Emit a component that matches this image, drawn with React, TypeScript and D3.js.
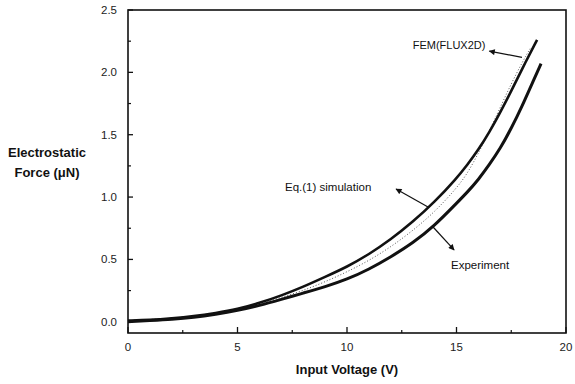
import * as d3 from "d3";

// Eq.(1) simulation (upper solid curve)
const eqVolt = [0, 1, 2, 3, 4, 5, 6, 7, 8, 9, 10, 11, 12, 13, 14, 15, 15.5, 16, 16.5, 17, 17.5, 18, 18.68];
const eqForce = [0.01, 0.015, 0.028, 0.045, 0.07, 0.1, 0.15, 0.21, 0.28, 0.36, 0.44, 0.54, 0.66, 0.8, 0.96, 1.15, 1.26, 1.38, 1.52, 1.68, 1.85, 2.03, 2.26];

// Experiment (lower solid curve)
const expVolt = [0, 1, 2, 3, 4, 5, 6, 7, 8, 9, 10, 11, 12, 13, 14, 15, 15.5, 16, 16.5, 17, 17.5, 18, 18.5, 18.86];
const expForce = [0.0, 0.01, 0.02, 0.035, 0.06, 0.09, 0.13, 0.18, 0.23, 0.28, 0.34, 0.42, 0.52, 0.63, 0.77, 0.95, 1.04, 1.14, 1.26, 1.39, 1.55, 1.73, 1.93, 2.07];

// FEM(FLUX2D) (dotted)
const femVolt = [0, 2, 4, 5, 6, 7, 8, 9, 10, 11, 12, 13, 14, 15, 15.5, 16, 16.5, 17, 17.5, 18, 18.36];
const femForce = [0.01, 0.025, 0.065, 0.095, 0.14, 0.195, 0.25, 0.32, 0.4, 0.49, 0.6, 0.73, 0.88, 1.07, 1.19, 1.35, 1.53, 1.72, 1.91, 2.08, 2.19];

const xTicks = [0, 5, 10, 15, 20];
const xMinor = [2.5, 7.5, 12.5, 17.5];
const yTicks = [0, 0.5, 1.0, 1.5, 2.0, 2.5];
const yMinor = [0.25, 0.75, 1.25, 1.75, 2.25];

// annotations: label position and arrow tail -> head, in data units
const labels = ["FEM(FLUX2D)", "Eq.(1) simulation", "Experiment"];
const labelPos = [[13.0, 2.19], [7.17, 1.05], [14.75, 0.42]];
const arrowFrom = [[17.99, 2.12], [13.7, 0.92], [13.93, 0.76]];
const arrowTo = [[16.5, 2.17], [12.24, 1.065], [14.89, 0.576]];

const W = 575;
const H = 384;
const font = "Arial, 'Liberation Sans', Helvetica, sans-serif";

export default function App() {
  const x = d3.scaleLinear().domain([0, 20]).range([128, 566]);
  const y = d3.scaleLinear().domain([-0.09, 2.5]).range([333, 10]);

  const line = d3
    .line<[number, number]>()
    .x(d => x(d[0]))
    .y(d => y(d[1]))
    .curve(d3.curveBasis);

  const eq = eqVolt.map((v, i) => [v, eqForce[i]] as [number, number]);
  const ex = expVolt.map((v, i) => [v, expForce[i]] as [number, number]);
  const fem = femVolt.map((v, i) => [v, femForce[i]] as [number, number]);

  const x0 = x(0), x1 = x(20), yTop = y(2.5), yBot = y(-0.09);

  return (
    <div style={{ position: "absolute", left: 0, top: 0 }}>
      <svg width={W} height={H} style={{ display: "block", background: "#fff" }}>
        <defs>
          <marker id="ah" viewBox="0 0 10 10" refX="9" refY="5" markerWidth="7" markerHeight="6" orient="auto" markerUnits="userSpaceOnUse">
            <path d="M0,0 L10,5 L0,10 z" fill="#111" />
          </marker>
        </defs>

        {/* frame */}
        <rect x={x0} y={yTop} width={x1 - x0} height={yBot - yTop} fill="none" stroke="#111" strokeWidth={1.6} />

        {/* y ticks */}
        {yTicks.map(t => (
          <g key={"y" + t}>
            <line x1={x0} x2={x0 + 5} y1={y(t)} y2={y(t)} stroke="#111" strokeWidth={1.3} />
            <text x={117} y={y(t) + 4} textAnchor="end" fontFamily={font} fontSize={11.5} fill="#222">
              {t.toFixed(1)}
            </text>
          </g>
        ))}
        {yMinor.map(t => (
          <line key={"ym" + t} x1={x0} x2={x0 + 3} y1={y(t)} y2={y(t)} stroke="#111" strokeWidth={1.2} />
        ))}

        {/* x ticks */}
        {xTicks.map(t => (
          <g key={"x" + t}>
            <line x1={x(t)} x2={x(t)} y1={yBot} y2={yBot - 6} stroke="#111" strokeWidth={1.3} />
            <text x={x(t)} y={351} textAnchor="middle" fontFamily={font} fontSize={11.5} fill="#222">
              {t}
            </text>
          </g>
        ))}
        {xMinor.map(t => (
          <line key={"xm" + t} x1={x(t)} x2={x(t)} y1={yBot} y2={yBot - 3} stroke="#111" strokeWidth={1.2} />
        ))}

        {/* axis titles */}
        <text x={(x0 + x1) / 2} y={374} textAnchor="middle" fontFamily={font} fontSize={13} fontWeight="bold" fill="#111">
          Input Voltage (V)
        </text>
        <text x={47} y={157} textAnchor="middle" fontFamily={font} fontSize={13} fontWeight="bold" fill="#111">
          Electrostatic
        </text>
        <text x={47} y={177} textAnchor="middle" fontFamily={font} fontSize={13} fontWeight="bold" fill="#111">
          Force (μN)
        </text>

        {/* curves */}
        <path d={line(fem) ?? ""} fill="none" stroke="#555" strokeWidth={1} strokeDasharray="1,2" />
        <path d={line(eq) ?? ""} fill="none" stroke="#111" strokeWidth={2.6} />
        <path d={line(ex) ?? ""} fill="none" stroke="#111" strokeWidth={3} />

        {/* annotations */}
        {labels.map((l, i) => (
          <g key={l}>
            <text x={x(labelPos[i][0])} y={y(labelPos[i][1])} fontFamily={font} fontSize={i === 0 ? 11 : 11.5} fill="#111">
              {l}
            </text>
            <line
              x1={x(arrowFrom[i][0])}
              y1={y(arrowFrom[i][1])}
              x2={x(arrowTo[i][0])}
              y2={y(arrowTo[i][1])}
              stroke="#111"
              strokeWidth={1.2}
              markerEnd="url(#ah)"
            />
          </g>
        ))}
      </svg>
    </div>
  );
}
